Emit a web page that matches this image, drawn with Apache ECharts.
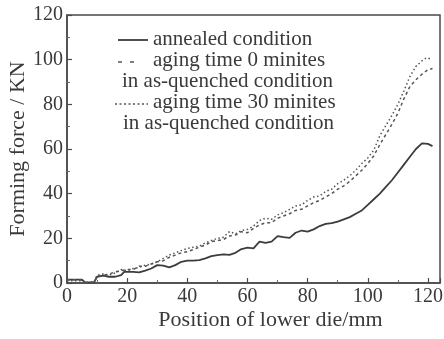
<!DOCTYPE html>
<html lang="en">
<head>
    <meta charset="UTF-8">
    <title>Forming force</title>
    <style>
        html, body { margin: 0; padding: 0; background: #fff; }
        #main { width: 444px; height: 339px; }
    </style>
</head>
<body>
    <div id="main"></div>
    <script src="https://cdn.jsdelivr.net/npm/echarts@6/dist/echarts.min.js"></script>
    <script>
        // 退火态
        var annealed = [
            [0, 1.5], [2, 1.5], [5, 1.5], [6, 0.3], [9, 0.3], [10, 2.8], [12, 3.3], [14, 2.8],
            [16, 2.8], [18, 3.5], [19, 5], [22, 5], [24, 4.8], [26, 5.5], [28, 6.5], [30, 8],
            [32, 7.8], [34, 7], [36, 8], [38, 9.5], [40, 10], [42, 10], [44, 10.2], [46, 11],
            [48, 12], [50, 12.5], [52, 12.8], [54, 12.6], [56, 13.5], [58, 15.2], [60, 15.8],
            [62, 15.5], [64, 18.5], [66, 18], [68, 18.5], [70, 21], [72, 20.5], [74, 20.2],
            [76, 22.5], [78, 23.5], [80, 23], [82, 24], [84, 25.5], [86, 26.5], [88, 26.8],
            [90, 27.5], [92, 28.5], [94, 29.5], [96, 31], [98, 32.5], [100, 35], [102, 37.5],
            [104, 40], [106, 43], [108, 46], [110, 49.5], [112, 53], [114, 56.5], [116, 60],
            [118, 62.5], [120, 62.3], [121.5, 61.3]
        ];
        // 时效0分钟
        var aging0 = [
            [0, 1.5], [2, 1.5], [5, 1.2], [6, 0.2], [9, 0.3], [10, 3], [12, 3.5], [14, 4],
            [16, 5], [18, 5.5], [20, 6], [22, 6], [24, 7.5], [26, 7.5], [28, 8.5], [30, 9.5],
            [32, 10], [34, 11.5], [36, 12.5], [38, 13.5], [40, 14], [42, 15], [44, 16], [46, 17],
            [48, 18.5], [50, 19], [52, 19.5], [54, 21], [56, 21.5], [58, 23], [60, 22.5],
            [62, 24.5], [64, 26], [66, 27], [68, 27], [70, 29], [72, 30], [74, 31], [76, 32.5],
            [78, 33], [80, 34.5], [82, 36], [84, 37], [86, 38.5], [88, 40], [90, 42], [92, 43.5],
            [94, 45.5], [96, 48], [98, 50.5], [100, 53.5], [102, 57], [104, 62], [106, 66.5],
            [108, 71], [110, 76], [112, 82.5], [114, 88], [116, 91], [118, 93.5], [120, 95.5],
            [121.5, 96]
        ];
        // 时效30分钟
        var aging30 = [
            [0, 1], [2, 1], [5, 1], [6, 0.2], [9, 0.5], [10, 3.5], [12, 4], [14, 3.5],
            [16, 4.5], [18, 6], [20, 5.5], [22, 6.5], [24, 7], [26, 8], [28, 8.5], [30, 9.5],
            [32, 11], [34, 12.5], [36, 13.5], [38, 14.5], [40, 15.5], [42, 16], [44, 16.5],
            [46, 18], [48, 19], [50, 20], [52, 20.5], [54, 23], [56, 22], [58, 23.5], [60, 24],
            [62, 25.5], [64, 28], [66, 29], [68, 28.5], [70, 30.5], [72, 31.5], [74, 33],
            [76, 34.5], [78, 35], [80, 37], [82, 38.5], [84, 39], [86, 41], [88, 42], [90, 44.5],
            [92, 46], [94, 48], [96, 50.5], [98, 53.5], [100, 56], [102, 59.5], [104, 66],
            [106, 70.5], [108, 75], [110, 80], [112, 86], [114, 92.5], [116, 97], [118, 99.5],
            [119.5, 100.8], [121, 100.3]
        ];

        var legendText = [
            'annealed condition',
            'aging time 0 minites',
            'in as-quenched condition',
            'aging time 30 minites',
            'in as-quenched condition'
        ];

        var font = '"Liberation Serif", "DejaVu Serif", serif';
        var ink = '#3a3a3a';

        var myChart = echarts.init(document.getElementById('main'));

        var axisCommon = {
            axisLine: { lineStyle: { color: '#4a4a4a', width: 1.5 } },
            axisTick: { inside: true, length: 5, lineStyle: { color: '#4a4a4a', width: 1.2 } },
            minorTick: { show: true, splitNumber: 2, length: 3, lineStyle: { color: '#6a6a6a' } },
            splitLine: { show: false },
            axisLabel: { color: ink, fontFamily: font, fontSize: 20, margin: 4 },
            nameTextStyle: { color: ink, fontFamily: font, fontSize: 22 },
            nameMoveOverlap: false
        };

        function txt(x, y, s) {
            return { type: 'text', left: x, top: y, style: { text: s, fill: ink, font: '21px ' + font } };
        }

        option = {
            animation: false,
            backgroundColor: '#fff',
            grid: {
                left: 67, right: 4, top: 15, bottom: 56,
                outerBoundsMode: 'none',
                show: true, borderColor: '#4a4a4a', borderWidth: 1.5
            },
            xAxis: echarts.util.merge({
                type: 'value',
                min: 0, max: 124, interval: 20,
                name: 'Position of lower die/mm',
                nameLocation: 'middle',
                nameGap: 26,
                nameTextStyle: { padding: [0, 0, 0, 34] }
            }, axisCommon),
            yAxis: echarts.util.merge({
                type: 'value',
                min: 0, max: 120, interval: 20,
                name: 'Forming force / KN',
                nameLocation: 'middle',
                nameGap: 38
            }, axisCommon),
            series: [{
                type: 'line', data: annealed, showSymbol: false,
                lineStyle: { color: '#3c3c3c', width: 1.8 }
            }, {
                type: 'line', data: aging0, showSymbol: false,
                lineStyle: { color: '#555', width: 1.5, type: [3, 3] }
            }, {
                type: 'line', data: aging30, showSymbol: false,
                lineStyle: { color: '#555', width: 1.5, type: [1.5, 2.5] }
            }],
            graphic: [
                { type: 'line', shape: { x1: 118, y1: 40, x2: 148, y2: 40 }, style: { stroke: '#3c3c3c', lineWidth: 1.8 } },
                { type: 'line', shape: { x1: 118, y1: 62, x2: 134, y2: 62 }, style: { stroke: '#555', lineWidth: 1.5, lineDash: [4, 8] } },
                { type: 'line', shape: { x1: 115, y1: 104, x2: 148, y2: 104 }, style: { stroke: '#555', lineWidth: 1.5, lineDash: [2, 2.5] } },
                txt(153, 29, legendText[0]),
                txt(153, 50, legendText[1]),
                txt(122, 71, legendText[2]),
                txt(153, 92, legendText[3]),
                txt(123, 113, legendText[4])
            ]
        };
        myChart.setOption(option);
    </script>
</body>
</html>
